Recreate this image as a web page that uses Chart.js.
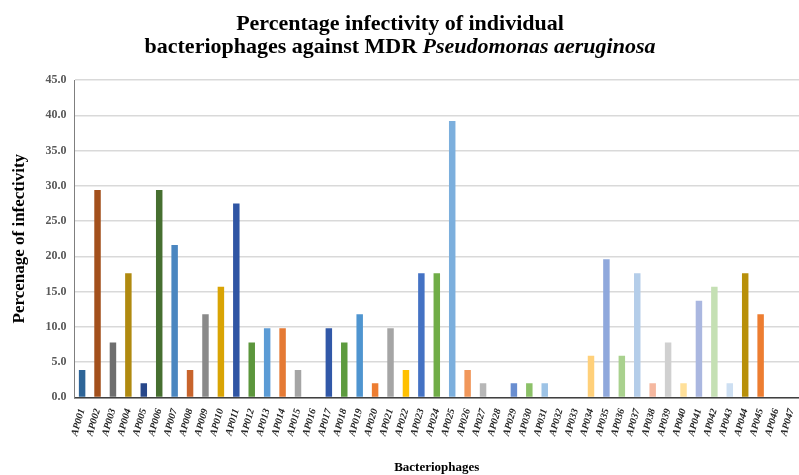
<!DOCTYPE html>
<html>
<head>
<meta charset="utf-8">
<script src="https://cdn.jsdelivr.net/npm/chart.js@4/dist/chart.umd.min.js"></script>
<style>
  html, body { margin: 0; padding: 0; background: #fff; overflow: hidden; }
  #wrap { width: 805px; height: 475px; position: relative; }
</style>
</head>
<body>
<div id="wrap"><canvas id="infectChart"></canvas></div>
<script>
// phage names
const phages = [];
for (let i = 1; i <= 47; i++) phages.push("AP0" + String(i).padStart(2, "0"));

// % infectivity
const infectivity = [
  3.9, 29.4, 7.8, 17.6, 2.0, 29.4, 21.6, 3.9, 11.8, 15.7,
  27.5, 7.8, 9.8, 9.8, 3.9, 0, 9.8, 7.8, 11.8, 2.0,
  9.8, 3.9, 17.6, 17.6, 39.2, 3.9, 2.0, 0, 2.0, 2.0,
  2.0, 0, 0, 5.9, 19.6, 5.9, 17.6, 2.0, 7.8, 2.0,
  13.7, 15.7, 2.0, 17.6, 11.8, 0, 0
];

const barColors = [
  "#2e6598", "#a3501c", "#6e6e6e", "#b08a10", "#27478a", "#466f30", "#4a86c0", "#c8642c", "#8a8a8a", "#d9a404",
  "#2f55a4", "#5c963c", "#5b9bd5", "#e57a34", "#a5a5a5", "#a5a5a5", "#3158a8", "#5d9b3e", "#4f95d0", "#ed7d31",
  "#a5a5a5", "#ffc000", "#4472c4", "#70ad47", "#7cafdd", "#f1975a", "#b7b7b7", "#b7b7b7", "#698ed0", "#8cc168",
  "#9dc3e6", "#9dc3e6", "#9dc3e6", "#ffd07a", "#8fa8dc", "#a9d18e", "#b4cde9", "#f5b8a0", "#d0d0d0", "#ffe09a",
  "#aab7e0", "#c5e0b4", "#cddff2", "#b8900a", "#ed7d31", "#ed7d31", "#ed7d31"
];

const serif = "'Liberation Serif', 'DejaVu Serif', serif";

// two-line title, second line has the italic species name
const titlePlugin = {
  id: "mixedTitle",
  afterDraw(chart) {
    const ctx = chart.ctx;
    const cx = 400;
    ctx.save();
    ctx.fillStyle = "#000";
    ctx.textBaseline = "middle";
    ctx.textAlign = "left";
    const plain = "bold 22px " + serif;
    const ital = "italic bold 22px " + serif;

    ctx.font = plain;
    const l1 = "Percentage infectivity of individual";
    const w1 = ctx.measureText(l1).width;
    ctx.fillText(l1, cx - w1 / 2, 24);

    const a = "bacteriophages against MDR ";
    const b = "Pseudomonas aeruginosa";
    const wa = ctx.measureText(a).width;
    ctx.font = ital;
    const wb = ctx.measureText(b).width;
    const x0 = cx - (wa + wb) / 2;
    ctx.font = plain;
    ctx.fillText(a, x0, 47);
    ctx.font = ital;
    ctx.fillText(b, x0 + wa, 47);
    ctx.restore();
  }
};

new Chart(document.getElementById("infectChart").getContext("2d"), {
  type: "bar",
  data: {
    labels: phages,
    datasets: [{
      data: infectivity,
      backgroundColor: barColors,
      barPercentage: 0.42,
      categoryPercentage: 1.0
    }]
  },
  options: {
    responsive: true,
    maintainAspectRatio: false,
    animation: false,
    layout: { padding: { left: 9, right: 0, top: 80, bottom: 0 } },
    plugins: {
      legend: { display: false },
      tooltip: { enabled: false },
      title: { display: false }
    },
    scales: {
      x: {
        grid: { display: false },
        border: { display: true, color: "#404040", width: 1.5 },
        ticks: {
          autoSkip: false,
          minRotation: 74,
          maxRotation: 74,
          color: "#222",
          padding: 2,
          font: { family: serif, size: 10, weight: "bold", style: "italic" }
        },
        title: {
          display: true,
          text: "Bacteriophages",
          color: "#000",
          font: { family: serif, size: 13, weight: "bold" },
          padding: { top: 20, bottom: 0 }
        }
      },
      y: {
        min: 0,
        max: 45,
        grid: { color: "#d9d9d9", lineWidth: 1.5, drawTicks: false },
        border: { display: true, color: "#7f7f7f", width: 1 },
        ticks: {
          stepSize: 5,
          padding: 8,
          color: "#595959",
          font: { family: serif, size: 12, weight: "bold" },
          callback: v => Number(v).toFixed(1)
        },
        title: {
          display: true,
          text: "Percenage of infectivity",
          color: "#000",
          font: { family: serif, size: 17, weight: "bold" },
          padding: { top: 0, bottom: 8 }
        }
      }
    }
  },
  plugins: [titlePlugin]
});
</script>
</body>
</html>
